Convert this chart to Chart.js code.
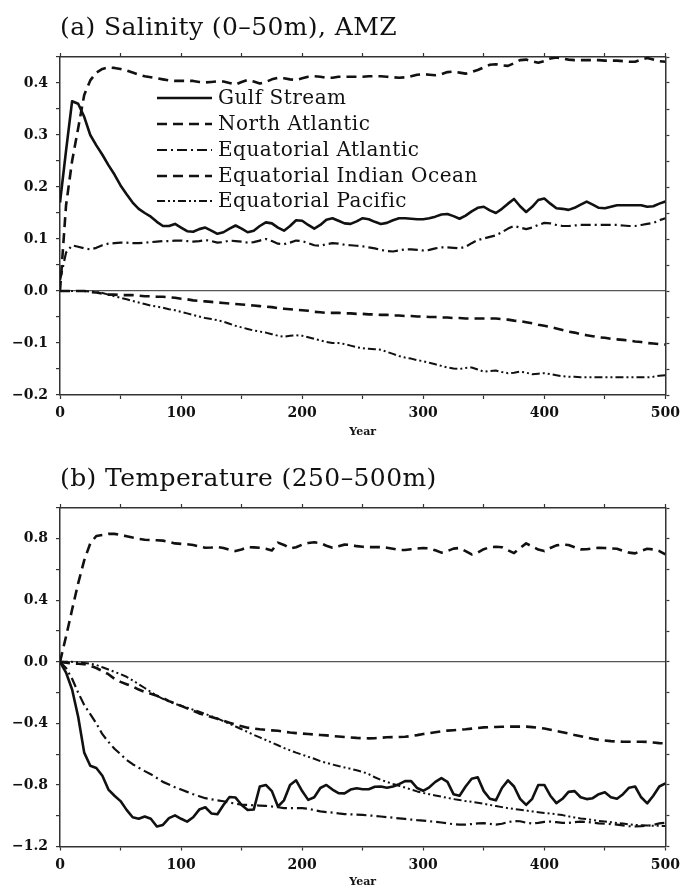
<!DOCTYPE html>
<html>
<head>
<meta charset="utf-8">
<script src="https://cdn.jsdelivr.net/npm/chart.js@4.4.1/dist/chart.umd.min.js"></script>
<style>
body{margin:0;background:#fff;width:686px;height:887px;overflow:hidden;position:relative;}
.box{position:absolute;left:0;width:686px;}
.ttl{position:absolute;left:60px;font-family:"DejaVu Serif",serif;font-size:25px;letter-spacing:0.4px;line-height:30px;color:#111;white-space:nowrap;}
</style>
</head>
<body>
<div class="box" style="top:0;height:446px"><canvas id="salChart" width="686" height="446"></canvas></div>
<div class="box" style="top:446px;height:450px"><canvas id="tmpChart" width="686" height="450"></canvas></div>
<div class="ttl" style="top:12px">(a) Salinity (0–50m), AMZ</div>
<div class="ttl" style="top:463px">(b) Temperature (250–500m)</div>
<script>
var years=[0,5,10,15,20,25,30,35,40,45,
50,55,60,65,70,75,80,85,90,95,
100,105,110,115,120,125,130,135,140,145,
150,155,160,165,170,175,180,185,190,195,
200,205,210,215,220,225,230,235,240,245,
250,255,260,265,270,275,280,285,290,295,
300,305,310,315,320,325,330,335,340,345,
350,355,360,365,370,375,380,385,390,395,
400,405,410,415,420,425,430,435,440,445,
450,455,460,465,470,475,480,485,490,495,500];

var seriesNames=["Gulf Stream","North Atlantic","Equatorial Atlantic","Equatorial Indian Ocean","Equatorial Pacific"];

// (a) salinity 0-50m
var salGulf=[0.17,0.27,0.365,0.36,0.335,0.30,0.28,0.262,0.242,0.224,
0.203,0.186,0.17,0.158,0.15,0.143,0.133,0.125,0.125,0.129,
0.122,0.115,0.114,0.119,0.122,0.116,0.11,0.113,0.12,0.126,
0.12,0.113,0.116,0.125,0.132,0.13,0.122,0.116,0.125,0.136,
0.135,0.127,0.12,0.127,0.137,0.14,0.135,0.13,0.129,0.134,
0.14,0.138,0.133,0.129,0.131,0.136,0.14,0.14,0.139,0.138,
0.138,0.14,0.143,0.147,0.148,0.144,0.139,0.145,0.153,0.16,
0.162,0.155,0.15,0.158,0.168,0.177,0.163,0.152,0.162,0.175,
0.178,0.168,0.159,0.158,0.156,0.16,0.166,0.172,0.166,0.16,
0.159,0.162,0.165,0.165,0.165,0.165,0.165,0.162,0.163,0.168,0.172];
var salNAtl=[0.0,0.165,0.25,0.313,0.377,0.405,0.42,0.427,0.43,0.429,
0.427,0.424,0.42,0.416,0.413,0.411,0.409,0.407,0.405,0.404,
0.404,0.404,0.404,0.402,0.401,0.402,0.403,0.403,0.4,0.397,
0.402,0.406,0.403,0.399,0.402,0.407,0.41,0.409,0.407,0.406,
0.409,0.412,0.413,0.412,0.41,0.41,0.412,0.412,0.412,0.412,
0.412,0.413,0.413,0.413,0.412,0.411,0.41,0.411,0.413,0.416,
0.417,0.416,0.415,0.417,0.421,0.422,0.42,0.418,0.421,0.425,
0.43,0.435,0.436,0.434,0.433,0.438,0.444,0.445,0.442,0.439,
0.442,0.447,0.449,0.447,0.445,0.444,0.444,0.444,0.444,0.444,
0.443,0.443,0.443,0.442,0.441,0.441,0.445,0.448,0.445,0.442,0.441];
var salEqAtl=[0.02,0.074,0.088,0.085,0.082,0.08,0.083,0.088,0.091,0.092,
0.093,0.093,0.092,0.092,0.093,0.094,0.095,0.096,0.096,0.097,
0.097,0.096,0.095,0.096,0.098,0.096,0.093,0.094,0.097,0.096,
0.095,0.093,0.094,0.097,0.1,0.096,0.091,0.09,0.093,0.097,
0.096,0.092,0.088,0.087,0.09,0.092,0.091,0.089,0.088,0.087,
0.086,0.084,0.082,0.079,0.077,0.076,0.078,0.08,0.08,0.079,
0.078,0.079,0.082,0.084,0.084,0.083,0.082,0.085,0.092,0.098,
0.101,0.104,0.107,0.113,0.12,0.125,0.122,0.119,0.122,0.127,
0.131,0.13,0.127,0.125,0.125,0.126,0.127,0.127,0.127,0.127,
0.127,0.127,0.127,0.126,0.125,0.125,0.127,0.129,0.131,0.136,0.14];
var salEqInd=[0,0,0,0,0,-0.002,-0.003,-0.005,-0.007,-0.007,
-0.008,-0.008,-0.008,-0.009,-0.01,-0.01,-0.011,-0.011,-0.012,-0.013,
-0.015,-0.016,-0.018,-0.019,-0.02,-0.021,-0.022,-0.023,-0.024,-0.025,
-0.026,-0.027,-0.028,-0.029,-0.03,-0.031,-0.033,-0.034,-0.035,-0.036,
-0.037,-0.038,-0.04,-0.041,-0.042,-0.042,-0.042,-0.043,-0.043,-0.044,
-0.044,-0.045,-0.045,-0.046,-0.046,-0.047,-0.047,-0.048,-0.048,-0.049,
-0.049,-0.05,-0.05,-0.051,-0.051,-0.052,-0.052,-0.053,-0.053,-0.053,
-0.053,-0.053,-0.053,-0.054,-0.055,-0.057,-0.058,-0.06,-0.062,-0.065,
-0.067,-0.069,-0.072,-0.075,-0.078,-0.08,-0.083,-0.085,-0.087,-0.089,
-0.09,-0.092,-0.093,-0.094,-0.095,-0.097,-0.098,-0.1,-0.101,-0.102,-0.103];
var salEqPac=[0,0,0,0,0,-0.001,-0.002,-0.004,-0.007,-0.01,
-0.013,-0.016,-0.019,-0.022,-0.025,-0.028,-0.03,-0.032,-0.035,-0.037,
-0.04,-0.043,-0.046,-0.049,-0.052,-0.054,-0.056,-0.059,-0.063,-0.067,
-0.07,-0.073,-0.076,-0.078,-0.08,-0.083,-0.086,-0.088,-0.086,-0.085,
-0.086,-0.089,-0.092,-0.095,-0.098,-0.1,-0.1,-0.102,-0.105,-0.108,
-0.11,-0.111,-0.112,-0.113,-0.117,-0.121,-0.125,-0.128,-0.13,-0.133,
-0.135,-0.138,-0.141,-0.144,-0.147,-0.149,-0.15,-0.148,-0.147,-0.151,
-0.155,-0.154,-0.153,-0.156,-0.158,-0.157,-0.155,-0.157,-0.16,-0.159,
-0.158,-0.16,-0.162,-0.164,-0.165,-0.165,-0.166,-0.166,-0.166,-0.166,
-0.166,-0.166,-0.166,-0.166,-0.166,-0.166,-0.166,-0.166,-0.165,-0.163,-0.162];

// (b) temperature 250-500m
var tmpGulf=[0,-0.07,-0.18,-0.357,-0.59,-0.675,-0.69,-0.74,-0.83,-0.87,
-0.905,-0.962,-1.01,-1.02,-1.005,-1.02,-1.07,-1.06,-1.016,-0.998,
-1.02,-1.038,-1.01,-0.96,-0.945,-0.985,-0.99,-0.93,-0.878,-0.882,
-0.93,-0.963,-0.96,-0.81,-0.8,-0.84,-0.94,-0.9,-0.8,-0.77,
-0.84,-0.897,-0.88,-0.82,-0.8,-0.83,-0.853,-0.855,-0.83,-0.822,
-0.828,-0.828,-0.812,-0.81,-0.818,-0.81,-0.795,-0.775,-0.775,-0.82,
-0.838,-0.815,-0.78,-0.755,-0.78,-0.86,-0.87,-0.81,-0.76,-0.75,
-0.84,-0.89,-0.9,-0.82,-0.77,-0.81,-0.89,-0.93,-0.89,-0.8,
-0.8,-0.87,-0.918,-0.89,-0.845,-0.84,-0.88,-0.892,-0.886,-0.86,
-0.848,-0.88,-0.89,-0.86,-0.818,-0.81,-0.88,-0.92,-0.87,-0.81,-0.79];
var tmpNAtl=[0,0.165,0.34,0.51,0.66,0.77,0.818,0.825,0.832,0.832,
0.825,0.817,0.808,0.8,0.794,0.792,0.79,0.788,0.78,0.77,
0.767,0.764,0.76,0.75,0.742,0.743,0.746,0.74,0.728,0.72,
0.73,0.746,0.744,0.742,0.735,0.724,0.775,0.76,0.738,0.745,
0.762,0.772,0.777,0.772,0.755,0.742,0.752,0.762,0.76,0.752,
0.748,0.746,0.746,0.746,0.742,0.735,0.727,0.727,0.732,0.737,
0.74,0.738,0.725,0.71,0.72,0.736,0.74,0.72,0.698,0.71,
0.732,0.745,0.748,0.745,0.725,0.707,0.74,0.77,0.75,0.73,
0.72,0.74,0.757,0.762,0.76,0.745,0.731,0.732,0.738,0.742,
0.74,0.737,0.735,0.722,0.71,0.705,0.722,0.735,0.731,0.72,0.698];
var tmpEqAtl=[0,-0.04,-0.11,-0.2,-0.28,-0.34,-0.4,-0.47,-0.52,-0.565,
-0.6,-0.637,-0.665,-0.688,-0.71,-0.73,-0.755,-0.78,-0.797,-0.815,
-0.83,-0.845,-0.86,-0.873,-0.886,-0.893,-0.9,-0.906,-0.914,-0.922,
-0.928,-0.93,-0.932,-0.934,-0.936,-0.94,-0.945,-0.95,-0.951,-0.951,
-0.951,-0.955,-0.963,-0.972,-0.976,-0.98,-0.985,-0.989,-0.991,-0.993,
-0.995,-0.998,-1.001,-1.005,-1.009,-1.013,-1.017,-1.021,-1.025,-1.029,
-1.032,-1.036,-1.039,-1.044,-1.05,-1.055,-1.058,-1.058,-1.054,-1.05,
-1.048,-1.053,-1.058,-1.052,-1.042,-1.034,-1.036,-1.045,-1.051,-1.046,
-1.04,-1.038,-1.042,-1.047,-1.047,-1.042,-1.038,-1.04,-1.045,-1.05,
-1.052,-1.055,-1.058,-1.063,-1.068,-1.07,-1.068,-1.065,-1.06,-1.05,-1.045];
var tmpEqInd=[0,-0.005,-0.01,-0.012,-0.015,-0.025,-0.04,-0.06,-0.08,-0.11,
-0.13,-0.145,-0.16,-0.18,-0.195,-0.207,-0.22,-0.235,-0.255,-0.27,
-0.286,-0.302,-0.318,-0.335,-0.347,-0.358,-0.37,-0.383,-0.396,-0.408,
-0.418,-0.428,-0.433,-0.438,-0.442,-0.445,-0.448,-0.454,-0.459,-0.463,
-0.466,-0.469,-0.472,-0.475,-0.478,-0.482,-0.485,-0.488,-0.491,-0.494,
-0.496,-0.497,-0.496,-0.493,-0.49,-0.489,-0.488,-0.487,-0.482,-0.476,
-0.469,-0.464,-0.458,-0.452,-0.447,-0.444,-0.441,-0.438,-0.434,-0.43,
-0.426,-0.424,-0.423,-0.422,-0.421,-0.421,-0.421,-0.421,-0.424,-0.428,
-0.433,-0.441,-0.449,-0.457,-0.466,-0.475,-0.483,-0.491,-0.5,-0.507,
-0.511,-0.515,-0.518,-0.519,-0.519,-0.519,-0.519,-0.52,-0.524,-0.528,-0.53];
var tmpEqPac=[0,0,0,-0.003,-0.007,-0.012,-0.02,-0.035,-0.05,-0.065,
-0.08,-0.097,-0.12,-0.145,-0.17,-0.195,-0.22,-0.24,-0.257,-0.273,
-0.285,-0.298,-0.311,-0.324,-0.338,-0.353,-0.367,-0.385,-0.403,-0.42,
-0.438,-0.456,-0.474,-0.491,-0.508,-0.525,-0.542,-0.56,-0.575,-0.59,
-0.603,-0.617,-0.63,-0.645,-0.656,-0.667,-0.677,-0.686,-0.695,-0.705,
-0.715,-0.73,-0.75,-0.767,-0.78,-0.793,-0.805,-0.817,-0.83,-0.842,
-0.852,-0.86,-0.868,-0.876,-0.884,-0.892,-0.898,-0.905,-0.91,-0.916,
-0.922,-0.93,-0.937,-0.944,-0.951,-0.956,-0.961,-0.966,-0.972,-0.977,
-0.982,-0.986,-0.991,-0.996,-1.004,-1.011,-1.018,-1.022,-1.028,-1.034,
-1.038,-1.042,-1.047,-1.051,-1.056,-1.06,-1.062,-1.064,-1.065,-1.066,-1.067];

var lineDash=[[],[10,6],[10,4,2,4],[10,6],[8,3,2,3,2,3]];
var lineWidth=[2.6,2.6,2.2,2.6,2];
var ink='#111';
var frame='#333';
var serif='"DejaVu Serif", serif';

function toPoints(vals) {
    return years.map(function(yr,i) { return {x:yr,y:vals[i]}; });
}

function makeDatasets(list) {
    var out=[];
    for(let i=0;i<list.length;i++) {
        out.push({
            label:seriesNames[i],
            data:toPoints(list[i]),
            borderColor:ink,
            borderWidth:lineWidth[i],
            borderDash:lineDash[i],
            borderJoinStyle:'round',
            pointRadius:0,
            tension:0,
            fill:false
        });
    }
    return out;
}

function yLabel(every) {
    return function(v) {
        var r=Math.round(v*100);
        if(r%Math.round(every*100)!==0) return '';
        return (r<0?'\u2212':'')+Math.abs(v).toFixed(1);
    };
}

function zeroLine(c) {
    return (c.tick && Math.abs(c.tick.value)<1e-6) ? '#555' : 'rgba(0,0,0,0)';
}

/* axes: box sizes are fixed so the plot frame lands where the figure has it */
function makeScales(ymin,ymax,ystep,every,topH,botH) {
    var tickFont={family:serif,size:14,weight:'bold'};
    var side={drawOnChartArea:false,drawTicks:true,tickLength:4,tickColor:frame,tickWidth:1.2};
    return {
        x:{type:'linear',position:'bottom',min:0,max:500,
            ticks:{stepSize:50,autoSkip:false,maxRotation:0,padding:6,color:ink,font:tickFont,
                callback:function(v){ return v%100===0 ? String(v) : ''; }},
            grid:side,
            border:{display:true,color:frame,width:1.5},
            title:{display:true,text:'Year',color:ink,font:{family:serif,size:11,weight:'bold'},padding:{top:0,bottom:7}},
            afterFit:function(s){ s.height=botH; }},
        x2:{type:'linear',position:'top',min:0,max:500,
            ticks:{stepSize:50,display:false},
            grid:side,
            border:{display:true,color:frame,width:1.5},
            afterFit:function(s){ s.height=topH; }},
        y:{type:'linear',position:'left',min:ymin,max:ymax,
            ticks:{stepSize:ystep,autoSkip:false,padding:8,color:ink,font:tickFont,callback:yLabel(every)},
            grid:{drawOnChartArea:true,drawTicks:true,tickLength:4,color:zeroLine,lineWidth:1.2,tickColor:frame,tickWidth:1.2},
            border:{display:true,color:frame,width:1.5},
            afterFit:function(s){ s.width=60; }},
        y2:{type:'linear',position:'right',min:ymin,max:ymax,
            ticks:{stepSize:ystep,display:false},
            grid:side,
            border:{display:true,color:frame,width:1.5},
            afterFit:function(s){ s.width=5; }}
    };
}

// legend drawn inside panel (a), like the figure
var legendBox={
    id:'legendBox',
    afterDatasetsDraw:function(chart) {
        var ctx=chart.ctx;
        var rowY=[98,124,150,176,201];
        ctx.save();
        for(let i=0;i<seriesNames.length;i++) {
            ctx.beginPath();
            ctx.setLineDash(lineDash[i]);
            ctx.lineWidth=lineWidth[i];
            ctx.strokeStyle=ink;
            ctx.moveTo(157,rowY[i]);
            ctx.lineTo(212,rowY[i]);
            ctx.stroke();
            ctx.setLineDash([]);
            ctx.fillStyle=ink;
            ctx.font='20px '+serif;
            ctx.letterSpacing='0.5px';
            ctx.textBaseline='middle';
            ctx.textAlign='left';
            ctx.fillText(seriesNames[i],218,rowY[i]+1);
        }
        ctx.restore();
    }
};

function plotPanel(id,list,ymin,ymax,ystep,every,topH,botH,extra) {
    var ctx=document.getElementById(id).getContext('2d');
    return new Chart(ctx,{
        type:'line',
        data:{datasets:makeDatasets(list)},
        options:{
            responsive:false,
            animation:false,
            devicePixelRatio:1,
            layout:{padding:{left:0,right:12,top:0,bottom:0}},
            plugins:{legend:{display:false},tooltip:{enabled:false},title:{display:false}},
            scales:makeScales(ymin,ymax,ystep,every,topH,botH)
        },
        plugins:extra
    });
}

plotPanel('salChart',[salGulf,salNAtl,salEqAtl,salEqInd,salEqPac],-0.2,0.45,0.05,0.1,57,51,[legendBox]);
plotPanel('tmpChart',[tmpGulf,tmpNAtl,tmpEqAtl,tmpEqInd,tmpEqPac],-1.2,1.0,0.2,0.4,62,49.5,[]);
</script>
</body>
</html>
